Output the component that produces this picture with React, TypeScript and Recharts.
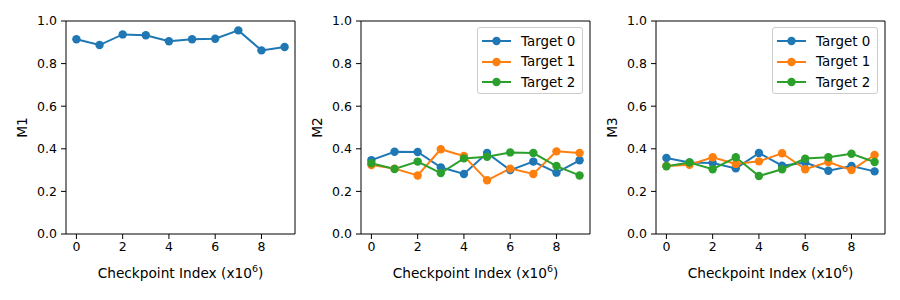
import { LineChart, Line, XAxis, YAxis, ReferenceArea, Legend } from "recharts";

const checkpoints = [0, 1, 2, 3, 4, 5, 6, 7, 8, 9];
const xTicks = [0, 2, 4, 6, 8];
const yTicks = [0, 0.2, 0.4, 0.6, 0.8, 1.0];

const m1Target0 = [0.914, 0.887, 0.937, 0.933, 0.905, 0.914, 0.917, 0.956, 0.862, 0.878];

const m2Target0 = [0.347, 0.386, 0.385, 0.313, 0.282, 0.380, 0.300, 0.340, 0.288, 0.346];
const m2Target1 = [0.324, 0.307, 0.275, 0.398, 0.366, 0.252, 0.307, 0.282, 0.388, 0.380];
const m2Target2 = [0.332, 0.305, 0.340, 0.286, 0.355, 0.363, 0.383, 0.380, 0.319, 0.275];

const m3Target0 = [0.357, 0.336, 0.333, 0.308, 0.380, 0.321, 0.335, 0.297, 0.319, 0.294];
const m3Target1 = [0.319, 0.325, 0.360, 0.329, 0.341, 0.379, 0.304, 0.338, 0.300, 0.371];
const m3Target2 = [0.318, 0.336, 0.304, 0.360, 0.272, 0.304, 0.354, 0.360, 0.377, 0.338];

const COLORS = ["#1f77b4", "#ff7f0e", "#2ca02c"];
const FONT = "DejaVu Sans, sans-serif";
const TICK_FS = 12.5;
const LABEL_FS = 13.7;
const LEGEND_FS = 13.4;

type Series = { name: string; values: number[] };

function buildRows(series: Series[]) {
  return checkpoints.map((c, i) => {
    const row: Record<string, number> = { x: c };
    series.forEach((s) => (row[s.name] = s.values[i]));
    return row;
  });
}

function LegendBox({ series }: { series: Series[] }) {
  return (
    <div
      style={{
        width: 106,
        height: 67,
        border: "1px solid #cccccc",
        borderRadius: 3,
        background: "rgba(255,255,255,0.8)",
        fontFamily: FONT,
        fontSize: LEGEND_FS,
        paddingTop: 3,
        boxSizing: "border-box",
      }}
    >
      {series.map((s, i) => (
        <div key={s.name} style={{ display: "flex", alignItems: "center", height: 20.5 }}>
          <svg width={43} height={12} style={{ flexShrink: 0 }}>
            <line x1={4} x2={33} y1={6} y2={6} stroke={COLORS[i]} strokeWidth={2} />
            <circle cx={18.5} cy={6} r={4.2} fill={COLORS[i]} />
          </svg>
          <span style={{ color: "#000" }}>{s.name}</span>
        </div>
      ))}
    </div>
  );
}

function Panel({ series, ylabel, left, legend }: { series: Series[]; ylabel: string; left: number; legend: boolean }) {
  const rows = buildRows(series);
  return (
    <div style={{ position: "absolute", left, top: 0 }}>
      <LineChart width={300} height={300} data={rows} margin={{ top: 21, right: 5, bottom: 0, left: 0 }}>
        <XAxis
          dataKey="x"
          type="number"
          domain={[-0.45, 9.45]}
          ticks={xTicks}
          axisLine={false}
          tickSize={5}
          tickMargin={3}
          tickLine={{ stroke: "#000" }}
          tick={{ fill: "#000", fontSize: TICK_FS, fontFamily: FONT }}
          height={66}
          label={(p: any) => {
            const vb = p.viewBox;
            return (
              <text x={vb.x + vb.width / 2} y={278} textAnchor="middle" fontSize={LABEL_FS} fontFamily={FONT} fill="#000">
                Checkpoint Index (x10<tspan dy={-6} fontSize={9.5}>6</tspan><tspan dy={6}>)</tspan>
              </text>
            );
          }}
        />
        <YAxis
          type="number"
          domain={[0, 1]}
          ticks={yTicks}
          tickFormatter={(v: number) => v.toFixed(1)}
          axisLine={false}
          tickSize={5}
          tickMargin={4}
          tickLine={{ stroke: "#000" }}
          tick={{ fill: "#000", fontSize: TICK_FS, fontFamily: FONT }}
          width={66}
          label={(p: any) => {
            const vb = p.viewBox;
            const cx = 22;
            const cy = vb.y + vb.height / 2;
            return (
              <text x={cx} y={cy} textAnchor="middle" dominantBaseline="central" fontSize={LABEL_FS} fontFamily={FONT} fill="#000" transform={`rotate(-90 ${cx} ${cy})`}>
                {ylabel}
              </text>
            );
          }}
        />
        {series.map((s, i) => (
          <Line
            key={s.name}
            dataKey={s.name}
            stroke={COLORS[i]}
            strokeWidth={2}
            dot={{ r: 4.2, fill: COLORS[i], stroke: COLORS[i], strokeWidth: 0 }}
            activeDot={false}
            isAnimationActive={false}
          />
        ))}
        <ReferenceArea x1={-0.45} x2={9.45} y1={0} y2={1} fill="none" stroke="#000" strokeWidth={1} ifOverflow="extendDomain" />
        {legend && (
          <Legend
            layout="vertical"
            align="center"
            verticalAlign="middle"
            wrapperStyle={{ top: 27, left: 182, width: 106, height: 67 }}
            content={() => <LegendBox series={series} />}
          />
        )}
      </LineChart>
    </div>
  );
}

export default function App() {
  return (
    <div style={{ position: "absolute", left: 0, top: 0, width: 900, height: 300, background: "#fff" }}>
      <Panel left={0} ylabel="M1" legend={false} series={[{ name: "Target 0", values: m1Target0 }]} />
      <Panel
        left={295}
        ylabel="M2"
        legend
        series={[
          { name: "Target 0", values: m2Target0 },
          { name: "Target 1", values: m2Target1 },
          { name: "Target 2", values: m2Target2 },
        ]}
      />
      <Panel
        left={590}
        ylabel="M3"
        legend
        series={[
          { name: "Target 0", values: m3Target0 },
          { name: "Target 1", values: m3Target1 },
          { name: "Target 2", values: m3Target2 },
        ]}
      />
    </div>
  );
}
